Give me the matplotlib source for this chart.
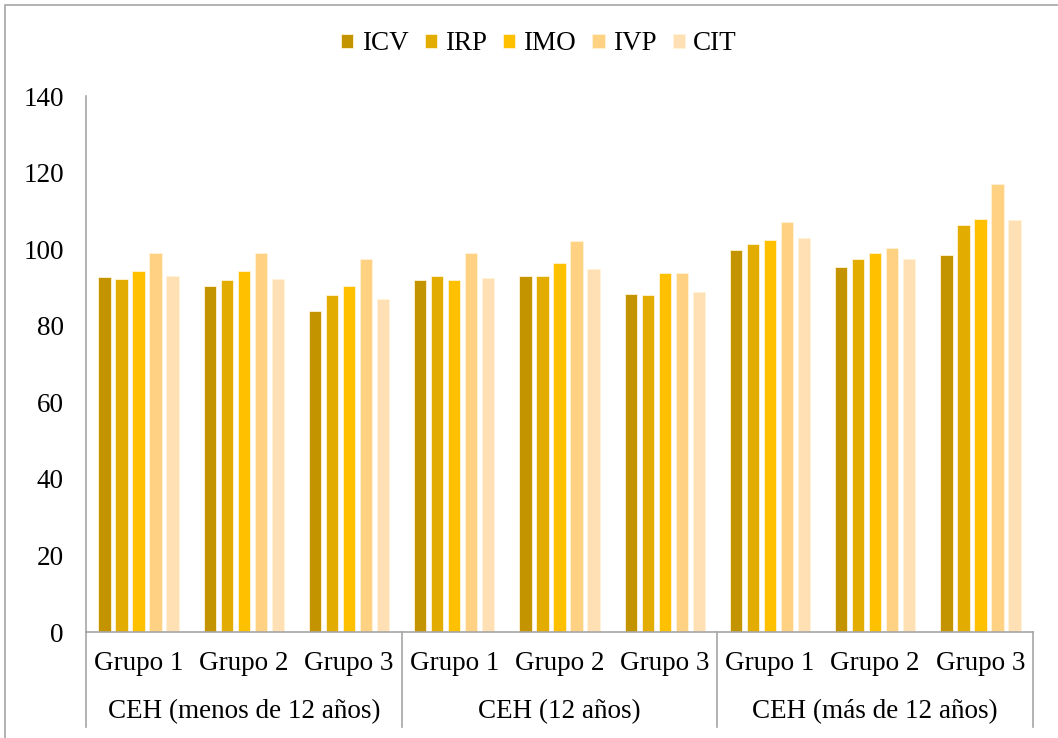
import matplotlib
matplotlib.use("Agg")
import matplotlib.pyplot as plt
import matplotlib.transforms as mtransforms
from matplotlib.patches import Rectangle
import numpy as np

plt.rcParams['font.family'] = ['Liberation Serif', 'DejaVu Serif']

groups = ["CEH (menos de 12 años)", "CEH (12 años)", "CEH (más de 12 años)"]
subgroups = ["Grupo 1", "Grupo 2", "Grupo 3"]
series = ["ICV", "IRP", "IMO", "IVP", "CIT"]
colors = ["#C49400", "#E3AC00", "#FFC000", "#FFD283", "#FFE0B4"]

ICV = [92.6, 90.5, 83.8, 91.9, 92.9, 88.4, 99.8, 95.4, 98.4]
IRP = [92.1, 92.0, 87.9, 93.0, 92.9, 88.0, 101.4, 97.3, 106.4]
IMO = [94.2, 94.2, 90.3, 91.9, 96.5, 93.8, 102.4, 99.0, 107.8]
IVP = [98.9, 98.9, 97.4, 99.0, 102.2, 93.8, 107.1, 100.4, 117.1]
CIT = [93.0, 92.1, 87.1, 92.5, 94.7, 88.7, 102.8, 97.3, 107.6]
values = [ICV, IRP, IMO, IVP, CIT]

yticks = [0, 20, 40, 60, 80, 100, 120, 140]

W, H = 1058, 738
fig = plt.figure(figsize=(W / 100, H / 100), dpi=100)
fig.patches.append(Rectangle((5 / W, -0.1), 1.2, 1 - 5 / H + 0.1, transform=fig.transFigure,
                             fill=False, edgecolor="#A6A6A6", linewidth=1.2, zorder=0))

ax = fig.add_axes([86 / W, 1 - 632 / H, (1033 - 86) / W, (632 - 96) / H])
n = len(ICV)
x = np.arange(n)
bw = 0.118
stride = 0.1616
for i, (s, vals) in enumerate(zip(series, values)):
    ax.bar(x + (i - 2) * stride, vals, width=bw, color=colors[i], label=s,
           edgecolor="#FFF3D6", linewidth=0.6, zorder=2)

ax.set_xlim(-0.5, n - 0.5)
ax.set_ylim(0, 140)
ax.set_yticks(yticks)
ax.set_yticklabels([str(t) for t in yticks], fontsize=19.5)
ax.tick_params(axis='y', length=0, pad=16)
ax.set_xticks([])
for sp in ["top", "right"]:
    ax.spines[sp].set_visible(False)
for sp in ["left", "bottom"]:
    ax.spines[sp].set_color("#A6A6A6")
    ax.spines[sp].set_linewidth(1.2)

trans = mtransforms.blended_transform_factory(ax.transData, ax.transAxes)
ax_h = 632 - 96
y_sub = -(663 - 632) / ax_h
y_grp = -(712 - 632) / ax_h
y_sep = -(727 - 632) / ax_h
for i in range(n):
    ax.text(x[i], y_sub, subgroups[i % 3], transform=trans, ha="center", va="center", fontsize=19.5)
for g in range(len(groups)):
    ax.text(g * 3 + 1, y_grp, groups[g], transform=trans, ha="center", va="center", fontsize=19.5)
for b in range(len(groups) + 1):
    ax.plot([b * 3 - 0.5, b * 3 - 0.5], [0, y_sep], transform=trans, color="#A6A6A6",
            linewidth=1.2, clip_on=False)

leg = fig.legend(loc="center", bbox_to_anchor=(539 / W, 1 - 44 / H), ncol=5, frameon=False,
                 fontsize=19.5, handlelength=0.45, handleheight=0.45, handletextpad=0.3,
                 columnspacing=0.6, borderpad=0.2)

fig.savefig("out.png", dpi=100)
